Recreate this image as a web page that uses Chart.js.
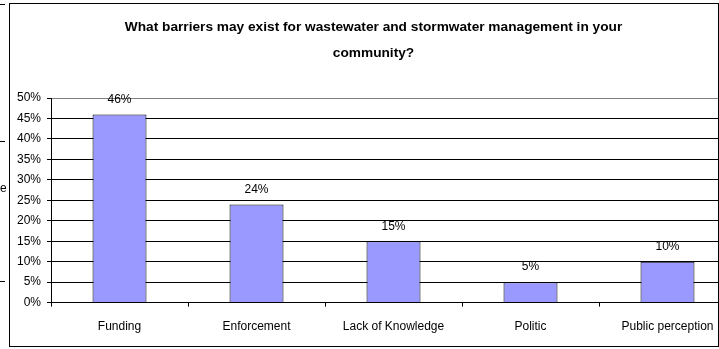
<!DOCTYPE html>
<html>
<head>
<meta charset="utf-8">
<script src="https://cdn.jsdelivr.net/npm/chart.js@4/dist/chart.umd.min.js"></script>
<style>
  html, body { margin: 0; padding: 0; background: #fff; overflow: hidden; }
  #wrap { width: 760px; height: 349px; }
</style>
</head>
<body>
<div id="wrap"><canvas id="chart" width="760" height="349"></canvas></div>
<script>
const categories = ["Funding", "Enforcement", "Lack of Knowledge", "Politic", "Public perception"];
const shares = [46, 24, 15, 5, 10];
const titleLines = ["What barriers may exist for wastewater and stormwater management in your", "community?"];

const FONT = "'Liberation Sans', Arial, Helvetica, sans-serif";

// white sheet + outer frame, plus the bits of the neighbouring sheet at the left edge
const framePlugin = {
    id: "frame",
    beforeDraw(chart) {
        const c = chart.ctx;
        c.save();
        c.fillStyle = "#fff";
        c.fillRect(0, 0, chart.width, chart.height);
        c.restore();
    },
    afterDraw(chart) {
        const c = chart.ctx;
        c.save();
        c.strokeStyle = "#000";
        c.lineWidth = 1;
        c.strokeRect(9.5, 3.5, 709, 343);
        c.beginPath();
        [4.5, 141.5, 281.5].forEach(y => {
            c.moveTo(0, y);
            c.lineTo(5, y);
        });
        c.stroke();
        c.fillStyle = "#000";
        c.font = "12px " + FONT;
        c.textBaseline = "middle";
        c.fillText("e", 0, 189);
        c.restore();
    }
};

// value labels above each bar
const barLabels = {
    id: "barLabels",
    afterDatasetsDraw(chart) {
        const c = chart.ctx;
        const meta = chart.getDatasetMeta(0);
        c.save();
        c.fillStyle = "#000";
        c.font = "12px " + FONT;
        c.textAlign = "center";
        c.textBaseline = "middle";
        meta.data.forEach((bar, i) => {
            c.fillText(shares[i] + "%", bar.x, bar.y - 15);
        });
        c.restore();
    }
};

const graph = new Chart(document.getElementById("chart"), {
    type: "bar",
    data: {
        labels: categories,
        datasets: [
            {
                label: "Share",
                data: shares,
                backgroundColor: "#9999FF",
                borderColor: "#000",
                borderWidth: 1,
                barPercentage: 0.394,
                categoryPercentage: 1
            }
        ]
    },
    options: {
        responsive: false,
        animation: false,
        devicePixelRatio: 1,
        layout: {
            padding: { left: 11, right: 24, top: 0, bottom: 2 }
        },
        scales: {
            y: {
                min: 0,
                max: 50,
                ticks: {
                    stepSize: 5,
                    padding: 6,
                    color: "#000",
                    font: { family: FONT, size: 12 },
                    callback: function(value) {
                        return value + "%";
                    }
                },
                grid: {
                    color: ctx => (ctx.tick && ctx.tick.value === 50) ? "#808080" : "#000",
                    tickColor: "#000",
                    tickLength: 4,
                    lineWidth: 1
                },
                border: { color: "#000", width: 1 }
            },
            x: {
                offset: true,
                ticks: {
                    padding: 13,
                    color: "#000",
                    font: { family: FONT, size: 12 },
                    maxRotation: 0,
                    autoSkip: false
                },
                grid: {
                    offset: true,
                    drawOnChartArea: false,
                    color: "#000",
                    tickLength: 4
                },
                border: { color: "#000", width: 1 }
            }
        },
        plugins: {
            legend: { display: false },
            tooltip: { enabled: false },
            title: {
                display: true,
                text: titleLines,
                color: "#000",
                font: { family: FONT, size: 13.7, weight: "bold", lineHeight: 1.9 },
                padding: { top: 14, bottom: 32 }
            }
        }
    },
    plugins: [framePlugin, barLabels]
});
</script>
</body>
</html>
